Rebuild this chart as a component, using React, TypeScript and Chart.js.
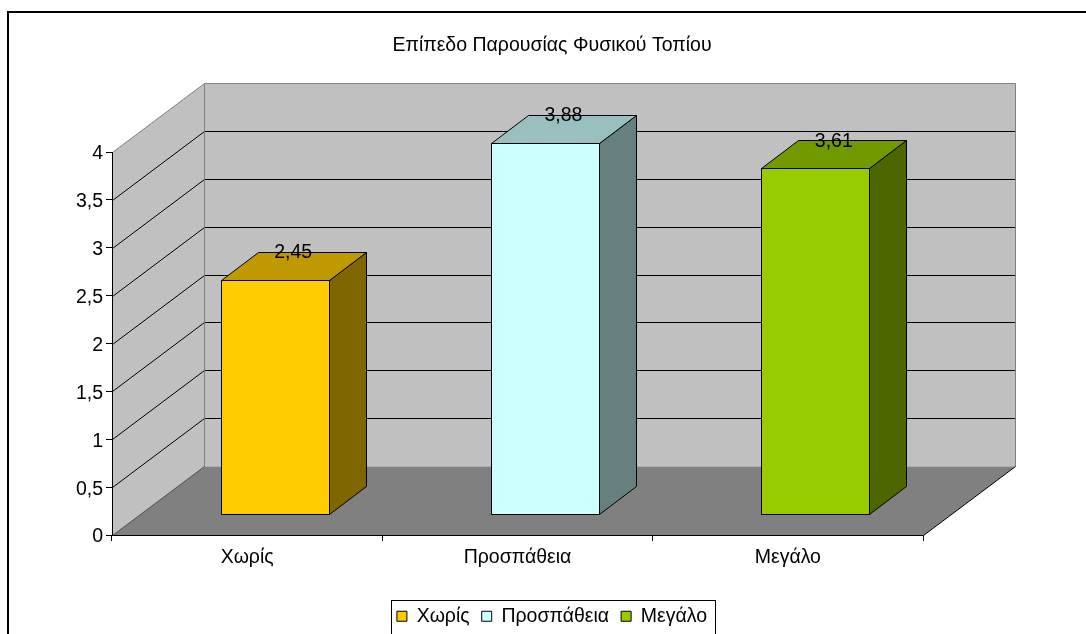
import React, { useEffect, useRef } from 'react';
import { Chart, registerables } from 'chart.js';

Chart.register(...registerables);

// ---- data ----
const TITLE = 'Επίπεδο Παρουσίας Φυσικού Τοπίου';
const categories = ['Χωρίς', 'Προσπάθεια', 'Μεγάλο'];
const values = [2.45, 3.88, 3.61];
const barColors = ['#FFCC00', '#CCFFFF', '#99CC00'];
const yMin = 0;
const yMax = 4;
const yStep = 0.5;

// ---- style ----
const FAMILY = '"Liberation Sans", Arial, sans-serif';
const FS = 19.5;
const DX = 91.5; // depth offset of the 3D box
const DY = -69.5;
const F0 = 0.3; // bar front depth fraction
const F1 = 0.7; // bar back depth fraction
const LEG_PAD = 12;

const fmt = (v: number) => String(v).replace('.', ',');

function shade(hex: string, k: number) {
  const n = parseInt(hex.slice(1), 16);
  const r = Math.round(((n >> 16) & 255) * k);
  const g = Math.round(((n >> 8) & 255) * k);
  const b = Math.round((n & 255) * k);
  return `rgb(${r},${g},${b})`;
}

const px = (v: number) => Math.round(v) + 0.5;

function poly(ctx: CanvasRenderingContext2D, pts: number[][], fill?: string, stroke?: string) {
  ctx.beginPath();
  pts.forEach((p, i) => (i ? ctx.lineTo(p[0], p[1]) : ctx.moveTo(p[0], p[1])));
  ctx.closePath();
  if (fill) {
    ctx.fillStyle = fill;
    ctx.fill();
  }
  if (stroke) {
    ctx.strokeStyle = stroke;
    ctx.stroke();
  }
}

function line(ctx: CanvasRenderingContext2D, pts: number[][], color: string) {
  ctx.beginPath();
  pts.forEach((p, i) => (i ? ctx.lineTo(p[0], p[1]) : ctx.moveTo(p[0], p[1])));
  ctx.strokeStyle = color;
  ctx.stroke();
}

const threeD = {
  id: 'threeD',
  beforeDraw(chart: any) {
    const { ctx } = chart;
    const xs = chart.scales.x;
    const ys = chart.scales.y;
    const L = px(xs.left);
    const R = px(xs.right);
    const B = px(ys.getPixelForValue(ys.min));
    const T = px(ys.getPixelForValue(ys.max));
    ctx.save();
    ctx.fillStyle = '#fff';
    ctx.fillRect(0, 0, chart.width, chart.height);
    // outer chart border
    ctx.lineWidth = 2;
    ctx.strokeStyle = '#000';
    ctx.strokeRect(8, 12, chart.width + 50, chart.height + 50);

    ctx.lineWidth = 1;
    const bx = Math.round(DX);
    const by = Math.round(DY);
    // back wall
    poly(ctx, [[L + bx, T + by], [R + bx, T + by], [R + bx, B + by], [L + bx, B + by]], '#C0C0C0');
    // side wall
    poly(ctx, [[L, B], [L, T], [L + bx, T + by], [L + bx, B + by]], '#C0C0C0');
    // floor
    poly(ctx, [[L, B], [R, B], [R + bx, B + by], [L + bx, B + by]], '#808080');

    // gridlines on the walls
    ys.ticks.forEach((t: any) => {
      if (t.value <= ys.min || t.value >= ys.max) return;
      const y = px(ys.getPixelForValue(t.value));
      line(ctx, [[L, y], [L + bx, y + by], [R + bx, y + by]], '#000');
    });
    // wall edges
    line(ctx, [[L, T], [L + bx, T + by], [R + bx, T + by], [R + bx, B + by]], '#808080');
    line(ctx, [[L + bx, T + by], [L + bx, B + by]], '#808080');
    line(ctx, [[L, B], [L + bx, B + by]], '#505050');
    line(ctx, [[R, B], [R + bx, B + by]], '#000');
    ctx.restore();
  },
  beforeDatasetsDraw(chart: any) {
    const { ctx } = chart;
    const meta = chart.getDatasetMeta(0);
    const ds = chart.data.datasets[0];
    ctx.save();
    ctx.lineWidth = 1;
    const ddx = Math.round((F1 - F0) * DX);
    const ddy = Math.round((F1 - F0) * DY);
    meta.data.forEach((el: any, i: number) => {
      const { x, y, base, width } = el.getProps(['x', 'y', 'base', 'width'], true);
      const c = ds.backgroundColor[i];
      const x0 = px(x - width / 2 + F0 * DX);
      const x1 = px(x + width / 2 + F0 * DX);
      const yt = px(y + F0 * DY);
      const yb = px(base + F0 * DY);
      poly(ctx, [[x1, yb], [x1, yt], [x1 + ddx, yt + ddy], [x1 + ddx, yb + ddy]], shade(c, 0.5), '#000');
      poly(ctx, [[x0, yt], [x1, yt], [x1 + ddx, yt + ddy], [x0 + ddx, yt + ddy]], shade(c, 0.75), '#000');
      poly(ctx, [[x0, yt], [x1, yt], [x1, yb], [x0, yb]], c, '#000');
    });
    // data labels
    ctx.fillStyle = '#000';
    ctx.font = `${FS}px ${FAMILY}`;
    ctx.textAlign = 'center';
    ctx.textBaseline = 'middle';
    meta.data.forEach((el: any, i: number) => {
      const { x, y } = el.getProps(['x', 'y'], true);
      const cx = x + F0 * DX + ddx / 2;
      const cy = y + F0 * DY + ddy + 1;
      ctx.fillText(fmt(ds.data[i]), cx, cy);
    });
    ctx.restore();
    return false;
  },
  afterDraw(chart: any) {
    const lg = chart.legend;
    if (!lg || !lg.legendHitBoxes || !lg.legendHitBoxes.length) return;
    const hb = lg.legendHitBoxes;
    const first = hb[0];
    const last = hb[hb.length - 1];
    const { ctx } = chart;
    ctx.save();
    ctx.lineWidth = 1;
    ctx.strokeStyle = '#000';
    const l = px(first.left - 6);
    const r = px(last.left + last.width + 8);
    const t = px(lg.top + 5.5);
    ctx.strokeRect(l, t, r - l, 60);
    ctx.restore();
  },
};

export default function App() {
  const ref = useRef<HTMLCanvasElement | null>(null);
  useEffect(() => {
    if (!ref.current) return;
    const font = { family: FAMILY, size: FS, weight: 'normal' as const };
    const chart = new Chart(ref.current, {
      type: 'bar',
      data: {
        labels: categories,
        datasets: [
          {
            label: TITLE,
            data: values,
            backgroundColor: barColors,
            categoryPercentage: 1,
            barPercentage: 0.4,
          },
        ],
      },
      options: {
        responsive: false,
        animation: false,
        devicePixelRatio: 1,
        layout: { padding: { left: 18, right: 0, top: 0, bottom: 4 } },
        plugins: {
          tooltip: { enabled: false },
          title: {
            display: true,
            text: TITLE,
            color: '#000',
            font,
            padding: { top: 34, bottom: 94.6 },
          },
          legend: {
            position: 'bottom',
            labels: {
              boxWidth: 10,
              boxHeight: 10,
              padding: LEG_PAD,
              color: '#000',
              font,
              generateLabels: () =>
                categories.map((c, i) => ({
                  text: c,
                  fillStyle: barColors[i],
                  strokeStyle: '#000',
                  lineWidth: 1,
                  hidden: false,
                  index: i,
                  datasetIndex: 0,
                })),
            },
          },
        },
        scales: {
          x: {
            offset: true,
            grid: { offset: true, drawOnChartArea: false, drawTicks: true, tickLength: 6, color: '#000' },
            border: { display: true, color: '#000' },
            ticks: { color: '#000', font, padding: 5, maxRotation: 0, autoSkip: false },
            afterFit: (s: any) => {
              s.height = 59.5;
            },
          },
          y: {
            min: yMin,
            max: yMax,
            ticks: {
              stepSize: yStep,
              color: '#000',
              font,
              padding: 3,
              labelOffset: 2,
              callback: (v: any) => fmt(Number(v)),
            },
            grid: { drawOnChartArea: false, drawTicks: true, tickLength: 6, color: '#000' },
            border: { display: true, color: '#000' },
            afterFit: (s: any) => {
              s.width = 94;
            },
          },
          y2: {
            position: 'right',
            display: true,
            grid: { display: false },
            ticks: { display: false },
            border: { display: false },
            afterFit: (s: any) => {
              s.width = 163;
            },
          },
        },
      },
      plugins: [threeD],
    });
    return () => chart.destroy();
  }, []);
  return (
    <div
      style={{
        position: 'fixed',
        left: 0,
        top: 0,
        width: 1086,
        height: 634,
        overflow: 'hidden',
        background: '#fff',
      }}
    >
      <canvas ref={ref} width={1086} height={640} style={{ display: 'block', width: 1086, height: 640 }} />
    </div>
  );
}
